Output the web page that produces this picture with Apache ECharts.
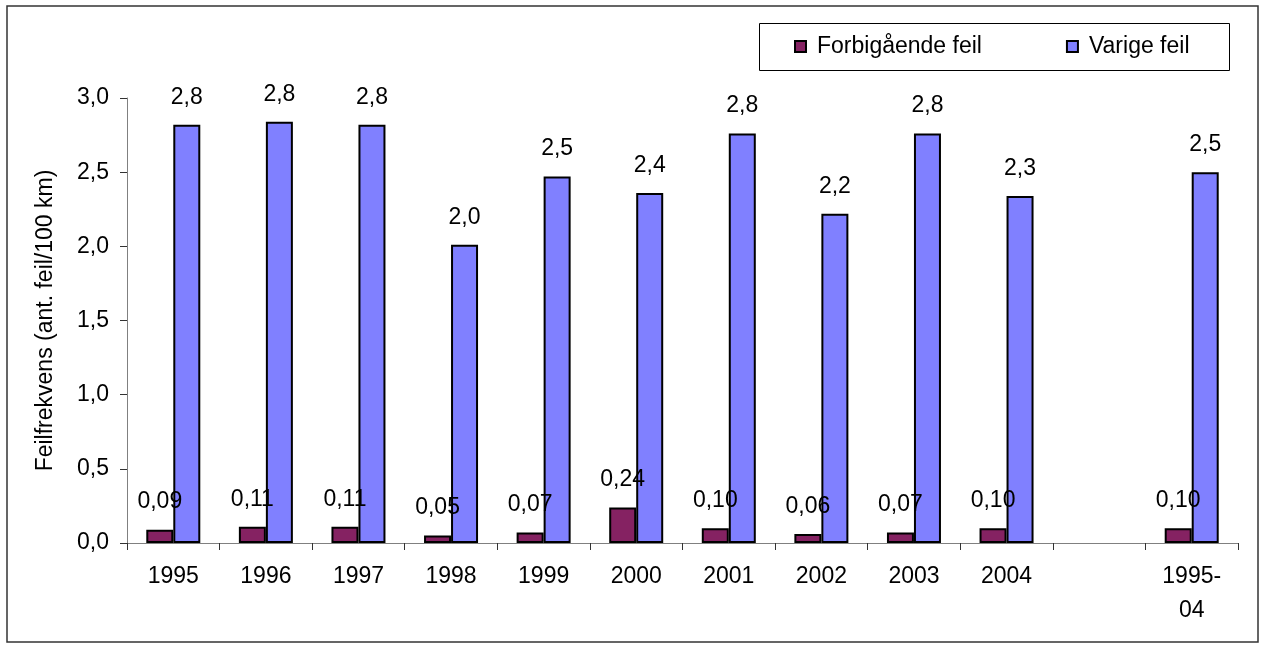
<!DOCTYPE html>
<html><head><meta charset="utf-8">
<script src="https://cdn.jsdelivr.net/npm/echarts@6/dist/echarts.min.js"></script>
<style>html,body{margin:0;padding:0;background:#fff}#c{width:1264px;height:648px}</style>
</head><body><div id="c"></div>
<script>
const categories = ["1995","1996","1997","1998","1999","2000","2001","2002","2003","2004","","1995-04"];
const forbigaende = [0.09,0.11,0.11,0.05,0.07,0.24,0.10,0.06,0.07,0.10,null,0.10];
const varige = [2.82,2.84,2.82,2.01,2.47,2.36,2.76,2.22,2.76,2.34,null,2.50];
const seriesNames = ["Forbigående feil","Varige feil"];
const yAxisTitle = "Feilfrekvens (ant. feil/100 km)";
const yMin = 0, yMax = 3, yStep = 0.5;

const FONT = "'Liberation Sans', Arial, sans-serif";
const FS = 23;
const comma = (v, d) => v.toFixed(d).replace('.', ',');

const chart = echarts.init(document.getElementById('c'), null, {renderer: 'canvas'});
chart.setOption({
  backgroundColor: '#fff',
  animation: false,
  textStyle: {fontFamily: FONT, color: '#000'},
  grid: {left: 127, right: 26, top: 98, bottom: 105, containLabel: false},
  graphic: [
    {type: 'rect', shape: {x: 7, y: 6, width: 1251, height: 636},
     style: {fill: 'none', stroke: '#333', lineWidth: 1.5}, silent: true, z: -1},
    {type: 'rect', shape: {x: 759.5, y: 23.5, width: 470, height: 47},
     style: {fill: '#fff', stroke: '#000', lineWidth: 1}, silent: true, z: -1}
  ],
  legend: {
    left: 794, top: 35, padding: 0,
    itemWidth: 11, itemHeight: 11, itemGap: 84,
    icon: 'rect',
    data: seriesNames,
    textStyle: {fontFamily: FONT, fontSize: FS, color: '#000', padding: [0,0,0,6]}
  },
  xAxis: {
    type: 'category', data: categories,
    axisLine: {lineStyle: {color: '#808080', width: 1}},
    axisTick: {show: true, interval: 0, length: 7, lineStyle: {color: '#333'}},
    axisLabel: {interval: 0, margin: 17, fontFamily: FONT, fontSize: FS, color: '#000', lineHeight: 34,
      formatter: v => v.replace('-', '-\n')},
    splitLine: {show: false}
  },
  yAxis: {
    type: 'value', min: yMin, max: yMax, interval: yStep,
    name: yAxisTitle, nameLocation: 'middle', nameRotate: 90, nameGap: 70,
    nameTextStyle: {fontFamily: FONT, fontSize: FS, color: '#000'},
    axisLine: {show: true, lineStyle: {color: '#808080', width: 1}},
    axisTick: {show: true, length: 7, lineStyle: {color: '#333'}},
    axisLabel: {margin: 18, fontFamily: FONT, fontSize: FS, color: '#000', formatter: v => comma(v, 1)},
    splitLine: {show: false}
  },
  series: [
    {name: seriesNames[0], type: 'bar', data: forbigaende, barWidth: 27, barGap: '0%',
     itemStyle: {color: '#852262', borderColor: '#000', borderWidth: 2},
     label: {show: true, position: 'top', distance: 16, fontFamily: FONT, fontSize: FS, color: '#000',
       formatter: p => comma(p.value, 2)}},
    {name: seriesNames[1], type: 'bar', data: varige, barWidth: 27, barGap: '0%',
     itemStyle: {color: '#8080FF', borderColor: '#000', borderWidth: 2},
     label: {show: true, position: 'top', distance: 16, fontFamily: FONT, fontSize: FS, color: '#000',
       formatter: p => comma(p.value, 1)}}
  ]
});
</script></body></html>
